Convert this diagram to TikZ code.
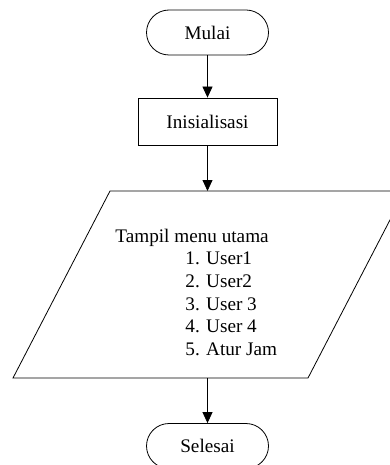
\documentclass[tikz,border=0pt]{standalone}
\usepackage{fontspec}
\setmainfont{Liberation Serif}
\usetikzlibrary{arrows.meta}

\begin{document}
\begin{tikzpicture}[x=1pt,y=-1pt,
  line width=0.8pt,
  lbl/.style={font=\fontsize{19.2pt}{22.7pt}\selectfont},
  term/.style={draw, lbl, rounded corners=22.5pt, minimum width=122pt, minimum height=45pt, inner sep=0pt},
  proc/.style={draw, lbl, minimum width=139pt, minimum height=47pt, inner sep=0pt},
  flow/.style={-{Triangle[length=11pt,width=10pt]}}]
\useasboundingbox (0,0) rectangle (390,465);
\clip (0,0) rectangle (390,465);

% start, initialisation
\node[term] (mulai) at (207.5,32.5) {Mulai};
\node[proc] (init) at (207.5,121.5) {Inisialisasi};

% main menu output (parallelogram)
\coordinate (tl) at (110,191);
\coordinate (tr) at (405,191);
\coordinate (br) at (308,378);
\coordinate (bl) at (13,378);
\draw (tl) -- (tr) -- (br) -- (bl) -- cycle;
\coordinate (ptop) at (207.5,191);
\coordinate (pbot) at (207.5,378);
% the base anchor sits on the last line's baseline
\node[lbl, anchor=base west, align=left, inner sep=0pt] (menu) at (115,355.5)
  {Tampil menu utama\\
   \hspace*{70pt}1. User1\\
   \hspace*{70pt}2. User2\\
   \hspace*{70pt}3. User 3\\
   \hspace*{70pt}4. User 4\\
   \hspace*{70pt}5. Atur Jam};

% end
\node[term] (selesai) at (207.5,446) {Selesai};

% flow lines
\draw[flow] (mulai) -- (init);
\draw[flow] (init) -- (ptop);
\draw[flow] (pbot) -- (selesai);
\end{tikzpicture}
\end{document}
